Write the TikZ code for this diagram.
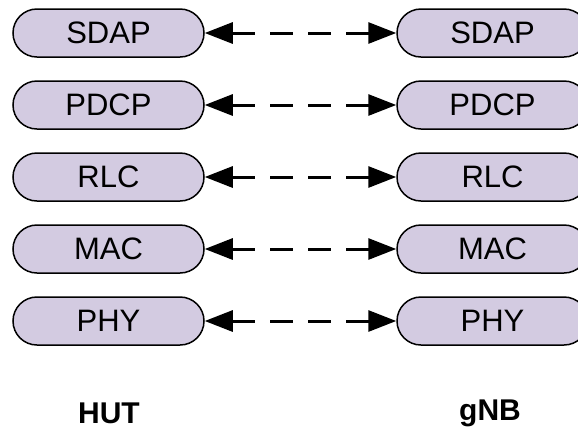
\documentclass[tikz,border=0pt]{standalone}
\usepackage{fontspec}
\setmainfont{Liberation Sans}
\usetikzlibrary{arrows.meta}
\definecolor{layerfill}{RGB}{211,203,225}
\tikzset{
  layer/.style={draw=black, line width=1.5bp, fill=layerfill,
    rounded corners=24bp, minimum width=191bp, minimum height=48bp,
    inner sep=0pt, font=\fontsize{31bp}{36bp}\selectfont},
  peer/.style={line width=3bp, dash pattern=on 23bp off 15bp,
    {Triangle[length=28bp,width=21bp]}-{Triangle[length=28bp,width=21bp]}},
  side/.style={font=\fontsize{30bp}{34bp}\selectfont\bfseries}
}
\begin{document}
\begin{tikzpicture}[x=1bp,y=-1bp]
  \useasboundingbox (0,0) rectangle (578,432);
  \clip (0,0) rectangle (578,432);
  % protocol stacks: HUT on the left, gNB on the right
  \foreach \name/\txt/\yy in {s/SDAP/33, p/PDCP/105, r/RLC/177, m/MAC/249, y/PHY/321}{
    \node[layer] (h\name) at (108.5,\yy) {\txt};
    \node[layer] (g\name) at (492.5,\yy) {\txt};
    \draw[peer] (h\name.east) -- (g\name.west);
  }
  \node[side] (hut) at (109,413) {HUT};
  \node[side] (gnb) at (490,413) {gNB};
\end{tikzpicture}
\end{document}
